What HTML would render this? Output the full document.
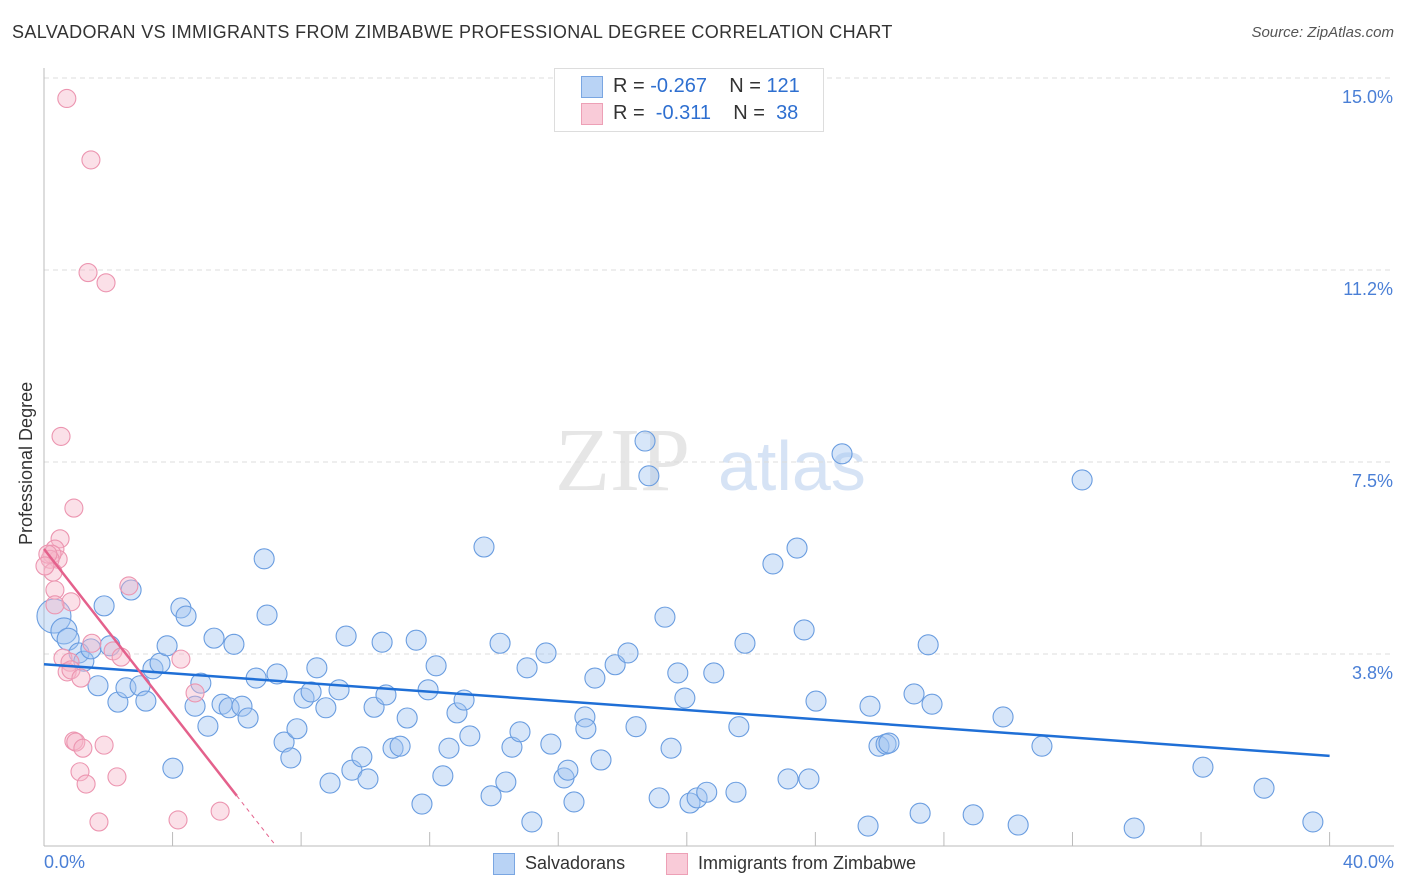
<!DOCTYPE html>
<html><head><meta charset="utf-8"><style>
body{margin:0;background:#fff;font-family:"Liberation Sans",sans-serif}
#wrap{position:relative;width:1406px;height:892px;overflow:hidden}
.t{position:absolute;white-space:nowrap}
</style></head><body>
<div id="wrap">
<div class="t" style="left:12px;top:22px;font-size:18px;color:#333;letter-spacing:0.35px">SALVADORAN VS IMMIGRANTS FROM ZIMBABWE PROFESSIONAL DEGREE CORRELATION CHART</div>
<div class="t" style="right:12px;top:24px;font-size:15px;color:#555;font-style:italic">Source: ZipAtlas.com</div>
<svg id="svg" width="1406" height="892" style="position:absolute;left:0;top:0"></svg>
</div>
<script>
const yTicks=[15.0,11.25,7.5,3.75];
const yTickLabels=["15.0%","11.2%","7.5%","3.8%"];
const blueX=[0.31,0.62,0.75,1.09,1.24,1.46,1.68,1.87,2.05,2.30,2.55,2.71,2.99,3.17,3.39,3.61,3.83,4.01,4.26,4.42,4.70,4.88,5.10,5.29,5.54,5.76,5.91,6.16,6.35,6.60,6.85,6.94,7.25,7.47,7.68,7.87,8.09,8.31,8.49,8.77,8.90,9.18,9.40,9.58,9.89,10.08,10.27,10.52,10.64,10.86,11.08,11.30,11.58,11.76,11.95,12.20,12.41,12.60,12.85,13.07,13.25,13.69,13.91,14.19,14.37,14.56,14.81,15.03,15.18,15.62,15.77,16.18,16.30,16.49,16.83,16.86,17.14,17.33,17.77,18.17,18.42,18.70,18.82,19.14,19.32,19.51,19.72,19.94,20.10,20.32,20.62,20.84,21.53,21.62,21.81,22.68,23.15,23.43,23.65,23.80,24.02,24.83,25.64,25.70,25.98,26.20,26.29,27.07,27.26,27.51,27.63,28.91,29.84,30.31,31.05,32.30,33.92,36.06,37.96,39.48];
const blueY=[4.49,4.20,4.04,3.77,3.61,3.85,3.13,4.69,3.91,2.81,3.09,5.00,3.13,2.83,3.46,3.57,3.91,1.52,4.65,4.49,2.73,3.18,2.34,4.06,2.77,2.70,3.94,2.73,2.50,3.28,5.61,4.51,3.36,2.03,1.72,2.29,2.89,3.01,3.48,2.70,1.23,3.05,4.10,1.48,1.74,1.31,2.71,3.98,2.95,1.91,1.95,2.50,4.02,0.82,3.05,3.52,1.37,1.91,2.60,2.85,2.15,5.84,0.98,3.96,1.25,1.93,2.23,3.48,0.47,3.77,1.99,1.33,1.48,0.86,2.52,2.29,3.28,1.68,3.54,3.77,2.33,7.91,7.23,0.94,4.47,1.91,3.38,2.89,0.84,0.94,1.05,3.38,1.05,2.33,3.96,5.51,1.31,5.82,4.22,1.31,2.83,7.66,0.39,2.73,1.95,1.99,2.01,2.97,0.64,3.93,2.77,0.61,2.52,0.41,1.95,7.15,0.35,1.54,1.13,0.47];
const blueR=[17,13,11];
const pinkX=[0.71,1.46,1.37,1.93,0.53,0.93,0.50,0.34,0.44,0.25,0.19,0.28,0.34,0.84,0.34,1.49,2.15,2.40,2.64,0.59,0.81,0.72,0.84,1.15,4.26,4.70,0.93,0.99,1.21,1.87,1.12,1.31,2.27,1.71,4.17,5.48,0.12,0.03];
const pinkY=[14.6,13.4,11.2,11.0,8.0,6.6,6.0,5.8,5.6,5.7,5.6,5.35,5.0,4.77,4.71,3.96,3.81,3.69,5.08,3.67,3.59,3.40,3.44,3.28,3.65,2.99,2.05,2.03,1.91,1.97,1.45,1.21,1.35,0.47,0.51,0.68,5.70,5.47];
const blueTrend=[3.55,1.76], blueTrendX=[0,40];
const pinkTrend=[5.8,0.98], pinkTrendX=[0,6.0], pinkTrendEnd=7.15;
const X0=44,XS=32.14,Y0=846,YS=51.2;
const xs=v=>X0+v*XS, ys=v=>Y0-v*YS;
const svg=document.getElementById('svg');const NS='http://www.w3.org/2000/svg';
function mk(tag,at,parent){const e=document.createElementNS(NS,tag);for(const k in at)e.setAttribute(k,at[k]);(parent||svg).appendChild(e);return e;}
let w=mk('text',{x:555,y:490,'font-size':90,'font-family':'Liberation Serif, serif',fill:'#e6e6e6'});w.textContent='ZIP';


let w2=mk('text',{x:718,y:490,'font-size':70,'font-family':'Liberation Sans, sans-serif',fill:'#d6e3f5'});w2.textContent='atlas';


yTicks.forEach((t,i)=>{
 const g=mk('line',{x1:44,x2:1394,y1:ys(t),y2:ys(t),stroke:'#dcdcdc','stroke-dasharray':'5,4'});
 
 
 const l=mk('text',{x:1393,y:ys(t)+25,'text-anchor':'end','font-size':18,fill:'#4a7fd6'});l.textContent=yTickLabels[i];
 
 
});
let ax=mk('line',{x1:44,x2:44,y1:68,y2:846,stroke:'#bbb'});


let bx=mk('line',{x1:44,x2:1394,y1:846,y2:846,stroke:'#bbb'});


for(let i=1;i<=10;i++){const t=mk('line',{x1:xs(i*4),x2:xs(i*4),y1:832,y2:846,stroke:'#bbb'});
 
 }
blueX.forEach((x,i)=>{const c=mk('circle',{cx:xs(x),cy:ys(blueY[i]),r:blueR[i]||10,fill:'rgba(160,196,240,0.42)',stroke:'#6a9de0','stroke-width':1.1});
 
 });
pinkX.forEach((x,i)=>{const c=mk('circle',{cx:xs(x),cy:ys(pinkY[i]),r:9,fill:'rgba(246,180,200,0.42)',stroke:'#ec95b0','stroke-width':1.1});
 
 });
let bl=mk('line',{x1:xs(blueTrendX[0]),y1:ys(blueTrend[0]),x2:xs(blueTrendX[1]),y2:ys(blueTrend[1]),stroke:'#1f6fd6','stroke-width':2.5});


let pl=mk('line',{x1:xs(pinkTrendX[0]),y1:ys(pinkTrend[0]),x2:xs(pinkTrendX[1]),y2:ys(pinkTrend[1]),stroke:'#e4618c','stroke-width':2.5});


const slope=(pinkTrend[1]-pinkTrend[0])/(pinkTrendX[1]-pinkTrendX[0]);
let pd=mk('line',{x1:xs(pinkTrendX[1]),y1:ys(pinkTrend[1]),x2:xs(pinkTrendEnd),y2:ys(pinkTrend[0]+slope*pinkTrendEnd),stroke:'#e4618c','stroke-width':1,'stroke-dasharray':'4,4'});


</script>
<div class="t" style="left:44px;top:852px;font-size:18px;color:#4a7fd6">0.0%</div>
<div class="t" style="right:12px;top:852px;font-size:18px;color:#4a7fd6">40.0%</div>
<div class="t" style="left:16px;top:545px;font-size:18px;color:#333;transform:rotate(-90deg);transform-origin:0 0">Professional Degree</div>
<div style="position:absolute;left:554px;top:68px;width:268px;height:62px;border:1px solid #ddd;background:#fff">
 <div style="position:absolute;left:26px;top:7px;width:20px;height:20px;background:#b9d3f5;border:1px solid #7aa6e2"></div>
 <div class="t" style="left:58px;top:6px;font-size:20px;color:#333">R = <span style="color:#2e6fd0">-0.267</span>&nbsp;&nbsp;&nbsp; N = <span style="color:#2e6fd0">121</span></div>
 <div style="position:absolute;left:26px;top:34px;width:20px;height:20px;background:#f9cbd8;border:1px solid #eda0b6"></div>
 <div class="t" style="left:58px;top:33px;font-size:20px;color:#333">R = &nbsp;<span style="color:#2e6fd0">-0.311</span>&nbsp;&nbsp;&nbsp; N = &nbsp;<span style="color:#2e6fd0">38</span></div>
</div>
<div>
 <div style="position:absolute;left:493px;top:853px;width:20px;height:20px;background:#b9d3f5;border:1px solid #7aa6e2"></div>
 <div class="t" style="left:525px;top:853px;font-size:18px;color:#333">Salvadorans</div>
 <div style="position:absolute;left:666px;top:853px;width:20px;height:20px;background:#f9cbd8;border:1px solid #eda0b6"></div>
 <div class="t" style="left:698px;top:853px;font-size:18px;color:#333">Immigrants from Zimbabwe</div>
</div>
</body></html>
